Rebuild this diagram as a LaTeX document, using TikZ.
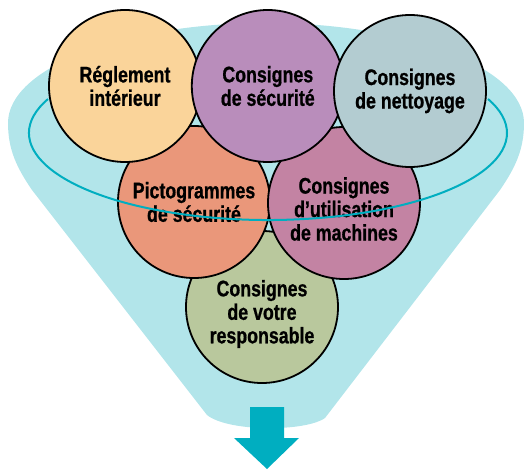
\documentclass[tikz,border=0pt]{standalone}
\usepackage{fontspec}
\setmainfont[FakeStretch=0.79,BoldFeatures={FakeBold=0.8}]{Liberation Sans}
\usepackage{xcolor}
\usetikzlibrary{positioning}

\definecolor{funnelblue}{HTML}{B2E5EA}
\definecolor{ringteal}{HTML}{00AEC0}
\definecolor{reglcol}{HTML}{FAD49A}
\definecolor{secucol}{HTML}{B98DBB}
\definecolor{nettcol}{HTML}{B3CCD1}
\definecolor{pictocol}{HTML}{EA977A}
\definecolor{utilcol}{HTML}{C383A3}
\definecolor{respcol}{HTML}{B9C89D}

\begin{document}
\begin{tikzpicture}[x=1pt,y=-1pt,node distance=0pt]
\tikzset{bubbletext/.style={align=center,inner sep=0pt,font=\fontsize{22.5}{23.5}\selectfont\bfseries},
  bubble/.style={circle,draw,line width=1.8pt,minimum size=152pt,bubbletext}}
\useasboundingbox (0,0) rectangle (524,469);

% funnel
\fill[funnelblue] (8,123) arc[start angle=180,end angle=0,x radius=258pt,y radius=100pt]
  .. controls (524,150) and (515,168) .. (500,190) -- (325,418)
  .. controls (305,432) and (228,432) .. (207,415) -- (32,190)
  .. controls (17,168) and (8,150) .. cycle;

% lower circles
\node[bubble,fill=respcol,label={[bubbletext,yshift=-7pt]center:Consignes\\de votre\\responsable}] (resp) at (262,307) {};
\node[bubble,fill=pictocol] (picto) at (194,202) {Pictogrammes\\de sécurité};
\node[bubble,fill=utilcol,label={[bubbletext,yshift=-6pt]center:Consignes\\d’utilisation\\de machines}] (util) at (344,203) {};

% ring (front half only)
\coordinate (ringc) at (268,133);
\draw[ringteal,line width=2pt] (ringc) ++(157:239pt and 87pt)
  arc[start angle=157,end angle=383,x radius=239pt,y radius=87pt];

% upper circles
\node[bubble,fill=reglcol] (regl) at (125,86) {Réglement\\intérieur};
\node[bubble,fill=secucol,right=-11pt of regl] (secu) {Consignes\\de sécurité};
\node[bubble,fill=nettcol] (nett) at (410,91) {Consignes\\de nettoyage};

% arrow
\fill[ringteal] (250,407) -- (284,407) -- (284,438) -- (299,438) -- (267,469) -- (234,438) -- (250,438) -- cycle;
\end{tikzpicture}
\end{document}
